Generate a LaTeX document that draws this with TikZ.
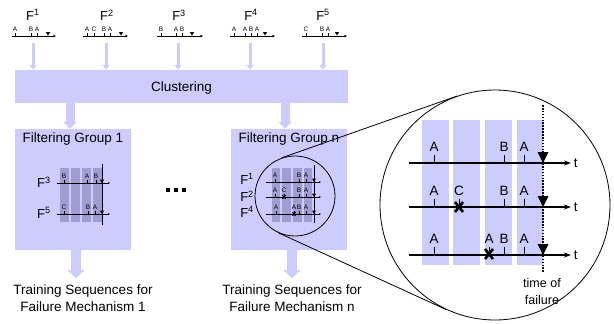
\documentclass[tikz,border=0pt]{standalone}
\usepackage{fontspec}
\setmainfont{Liberation Sans}
\usetikzlibrary{arrows.meta,calc}
\definecolor{lav}{RGB}{204,204,255}
\definecolor{lavdark}{RGB}{158,158,212}
\def\smallev(#1,#2)#3{\draw[line width=0.5pt] (#1,#2) -- ++(0,-3.5) node[above,inner sep=0.4pt,font=\fontsize{6.5}{6.5}\selectfont] {#3};}
\def\smalltri(#1,#2){\fill (#1,#2) -- ++(-2.2,-3.5) -- ++(4.4,0) -- cycle;}
\def\smallx(#1,#2){\draw[line width=1pt] (#1,#2) ++(-1.6,-1.8) -- ++(3.2,3.6) ++(-3.2,0) -- ++(3.2,-3.6);}
\def\bigev(#1,#2)#3{\draw[line width=0.6pt] (#1,#2) -- ++(0,-8) node[above,inner sep=0pt,yshift=3pt,font=\fontsize{13.5}{14}\selectfont] {#3};}
\def\bigtri(#1,#2){\fill (#1,#2) -- ++(-5.5,-11) -- ++(11,0) -- cycle;}
\def\xmark(#1,#2){\draw[line width=2.6pt] (#1,#2) ++(-4,-5) -- ++(8,10) ++(-8,0) -- ++(8,-10);}

\begin{document}
\begin{tikzpicture}[x=1pt,y=-1pt,font=\fontsize{13.5}{17}\selectfont,
  box/.style={fill=lav,inner sep=0pt},
  feedarrow/.style={draw=lav,line width=3pt,-{Triangle[width=7pt,length=5pt]}},
  grouparrow/.style={draw=lav,line width=9pt,-{Triangle[width=13pt,length=7pt]}},
  outarrow/.style={draw=lav,line width=10pt,-{Triangle[width=17pt,length=8pt]}},
  seqline/.style={line width=0.7pt,-{Stealth[length=3pt,width=2.5pt]}},
  panelline/.style={line width=0.8pt,-{Stealth[length=2pt,width=1.6pt]}},
  timeline/.style={line width=1.6pt,-{Stealth[length=7pt,width=5pt]}},
  flabel/.style={font=\fontsize{13}{13}\selectfont,inner sep=0pt}]
\useasboundingbox (0,0) rectangle (614,324);

%%%%% START %%%%%

% failure sequences
\node[flabel] (seqone) at (33,15) {F\textsuperscript{1}};
\node[flabel] (seqtwo) at (107,15) {F\textsuperscript{2}};
\node[flabel] (seqthree) at (179,15) {F\textsuperscript{3}};
\node[flabel] (seqfour) at (251,15) {F\textsuperscript{4}};
\node[flabel] (seqfive) at (323,15) {F\textsuperscript{5}};

\draw[seqline] (12,36) -- (56,36);
\smallev(15,36){A} \smallev(31,36){B} \smallev(37,36){A} \smalltri(48,35.5)
\draw[seqline] (83,36) -- (128,36);
\smallev(87,36){A} \smallev(94,36){C} \smallev(104,36){B} \smallev(110,36){A} \smalltri(121,35.5)
\draw[seqline] (157,36) -- (203,36);
\smallev(161,36){B} \smallev(176,36){A} \smallev(182,36){B} \smalltri(192,35.5)
\draw[seqline] (230,36) -- (275,36);
\smallev(234,36){A} \smallev(245,36){A} \smallev(251,36){B} \smallev(257,36){A} \smalltri(265,35.5)
\draw[seqline] (302,36) -- (347,36);
\smallev(306,36){C} \smallev(322,36){B} \smallev(328,36){A} \smalltri(337,35.5)

% clustering
\node[box, minimum width=333pt, minimum height=33pt, text depth=0pt] (cluster) at (181.5,86.5) {Clustering};

\coordinate (inone) at (33,43);
\coordinate (intwo) at (106,43);
\coordinate (inthree) at (178,43);
\coordinate (infour) at (250,43);
\coordinate (infive) at (323,43);
\draw[feedarrow] (inone) -- (inone |- cluster.north);
\draw[feedarrow] (intwo) -- (intwo |- cluster.north);
\draw[feedarrow] (inthree) -- (inthree |- cluster.north);
\draw[feedarrow] (infour) -- (infour |- cluster.north);
\draw[feedarrow] (infive) -- (infive |- cluster.north);

% filtering groups
\node[box, minimum width=116pt, minimum height=121pt] (grpone) at (73,189.5) {};
\node[below=4pt, inner sep=0pt] (grponetitle) at (grpone.north) {Filtering Group 1};
\node[box, minimum width=116pt, minimum height=121pt] (grpn) at (289,189.5) {};
\node[below=4pt, inner sep=0pt] (grpntitle) at (grpn.north) {Filtering Group n};

\draw[grouparrow] ($(grpone.north |- cluster.south)+(-3,0)$) -- ($(grpone.north)+(-3,0)$);
\draw[grouparrow] ($(grpn.north |- cluster.south)+(-4,0)$) -- ($(grpn.north)+(-4,0)$);

% group 1
\fill[lavdark] (60,168) rectangle (69,222);
\fill[lavdark] (71,168) rectangle (80,222);
\fill[lavdark] (82,168) rectangle (91,222);
\fill[lavdark] (93,168) rectangle (102,222);
\node[flabel] (gonethree) at (44,182) {F\textsuperscript{3}};
\node[flabel] (gonefive) at (44,213) {F\textsuperscript{5}};
\draw[panelline] (57,183) -- (110,183);
\draw[panelline] (57,214) -- (110,214);
\draw[line width=0.8pt] (102,164) -- (102,225);
\smallev(64,183){B} \smallev(87,183){A} \smallev(96,183){B} \smalltri(102,183)
\smallev(64,214){C} \smallev(88,214){B} \smallev(95,214){A} \smalltri(102,214)

% dots between the groups
\fill (166,188) rectangle ++(3.5,3.5);
\fill (174,188) rectangle ++(3.5,3.5);
\fill (182,188) rectangle ++(3.5,3.5);

% group n
\fill[lavdark] (272,168) rectangle (280,222);
\fill[lavdark] (282,168) rectangle (291,222);
\fill[lavdark] (293,168) rectangle (302,222);
\fill[lavdark] (304,168) rectangle (312,222);
\node[flabel] (gnone) at (247,179) {F\textsuperscript{1}};
\node[flabel] (gntwo) at (247,196) {F\textsuperscript{2}};
\node[flabel] (gnfour) at (247,212) {F\textsuperscript{4}};
\draw[panelline] (266,182) -- (321,182);
\draw[panelline] (266,197) -- (321,197);
\draw[panelline] (266,214) -- (321,214);
\draw[line width=0.8pt] (314,165) -- (314,223);
\smallev(275,182){A} \smallev(299,182){B} \smallev(306,182){A} \smalltri(314,182)
\smallev(275,197){A} \smallev(284,197){C} \smallev(299,197){B} \smallev(306,197){A} \smalltri(314,197)
\smallev(276,214){A} \smallev(294,214){A} \smallev(299,214){B} \smallev(306,214){A} \smalltri(314,214)
\smallx(284,197) \smallx(294,214)

% results
\node[anchor=north, align=center, inner sep=0pt] (trainone) at (83,285) {Training Sequences for\\Failure Mechanism 1};
\node[anchor=north, align=center, inner sep=0pt] (trainn) at (292,285) {Training Sequences for\\Failure Mechanism n};
\draw[outarrow, shorten >=7pt] ($(grpone.south)+(3,0)$) -- ($(grpone.south |- trainone.north)+(3,0)$);
\draw[outarrow, shorten >=7pt] ($(grpn.south)+(3,0)$) -- ($(grpn.south |- trainn.north)+(3,0)$);

% magnified view
\node[circle, draw, line width=0.8pt, minimum size=80pt, inner sep=0pt] (zoomsrc) at (295,196) {};
\node[circle, draw, line width=0.8pt, minimum size=230pt, inner sep=0pt] (zoomview) at (495,205) {};
\draw[line width=0.8pt] (zoomsrc.109.4) -- (zoomview.109.4);
\draw[line width=0.8pt] (zoomsrc.245.4) -- (zoomview.245.4);

\fill[lav] (422,120) rectangle (449,265);
\fill[lav] (453,120) rectangle (480,265);
\fill[lav] (485,120) rectangle (512,265);
\fill[lav] (517,120) rectangle (543,265);
\draw[line width=1.6pt, dash pattern=on 1.6pt off 1.3pt] (543,105) -- (543,273);

\draw[timeline] (409,163) -- (571,163) node[right, inner sep=2pt] (tone) {t};
\draw[timeline] (409,207) -- (571,207) node[right, inner sep=2pt] (ttwo) {t};
\draw[timeline] (409,255) -- (571,255) node[right, inner sep=2pt] (tthree) {t};

\bigev(434,163){A} \bigev(504,163){B} \bigev(524,163){A} \bigtri(543,163)
\bigev(434,207){A} \bigev(459,207){C} \bigev(504,207){B} \bigev(524,207){A} \bigtri(543,207)
\bigev(434,255){A} \bigev(489,255){A} \bigev(504,255){B} \bigev(524,255){A} \bigtri(543,255)
\xmark(459,207) \xmark(489,254)

\node[align=center, font=\fontsize{12.5}{17}\selectfont] (failtime) at (542,292) {time of\\failure};

%%%%% END %%%%%
\end{tikzpicture}
\end{document}
